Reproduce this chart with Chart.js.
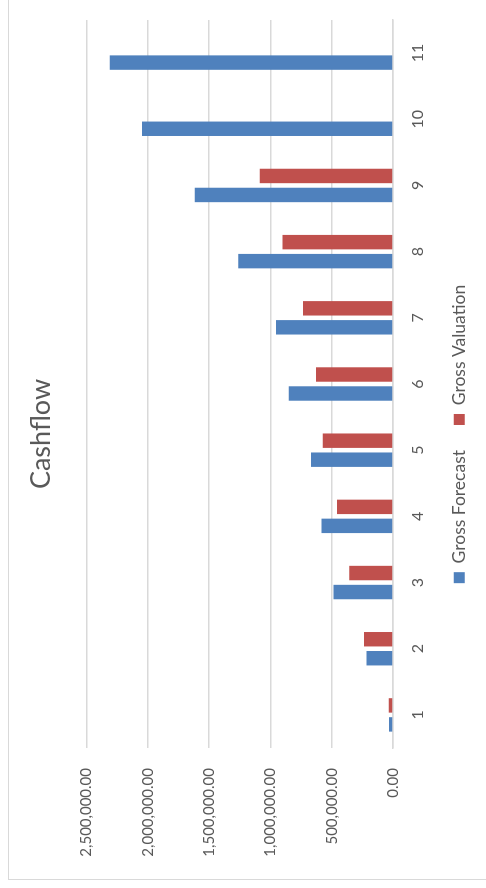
<!DOCTYPE html>
<html>
<head>
<meta charset="utf-8">
<script src="https://cdn.jsdelivr.net/npm/chart.js@4/dist/chart.umd.min.js"></script>
<style>
  html, body { margin: 0; padding: 0; background: #ffffff; }
  body { width: 486px; height: 888px; overflow: hidden; position: relative; }
  #rot { position: absolute; left: 0; top: 0; width: 900px; height: 486px;
         transform-origin: 0 0; transform: translate(0px, 888px) rotate(-90deg); }
  #frame { position: absolute; left: 8px; top: 8px; width: 900px; height: 500px;
           border: 1px solid #d9d9d9; box-sizing: border-box; }
  #c { position: absolute; left: 0; top: 0; }
</style>
</head>
<body>
<div id="rot">
  <div id="frame"></div>
  <canvas id="c" width="900" height="486"></canvas>
</div>
<script>
const chartTitle = 'Cashflow';
const categories = ['1', '2', '3', '4', '5', '6', '7', '8', '9', '10', '11'];
const seriesNames = ['Gross Forecast', 'Gross Valuation'];
const grossForecast = [33000, 217000, 486000, 584000, 669000, 851000, 954000, 1261000, 1616000, 2046000, 2309000];
const grossValuation = [35000, 237000, 356000, 457000, 573000, 628000, 734000, 900000, 1087000, null, null];
const valueMin = 0;
const valueMax = 2500000;
const valueStep = 500000;

function fmt(v) {
  const n = Math.round(v * 100) / 100;
  const parts = n.toFixed(2).split('.');
  parts[0] = parts[0].replace(/\B(?=(\d{3})+(?!\d))/g, ',');
  return parts.join('.');
}

const FONT = "Lato, 'Open Sans', sans-serif";
const TXT = '#595959';
const GRID = '#d9d9d9';

new Chart(document.getElementById('c'), {
  type: 'bar',
  data: {
    labels: categories,
    datasets: [
      { label: seriesNames[0], data: grossForecast, backgroundColor: '#4f81bd', borderWidth: 0 },
      { label: seriesNames[1], data: grossValuation, backgroundColor: '#c0504d', borderWidth: 0 }
    ]
  },
  options: {
    responsive: false,
    animation: false,
    devicePixelRatio: 1,
    categoryPercentage: 0.574,
    barPercentage: 0.76,
    layout: { padding: { left: 8, top: 8, right: 0, bottom: 8 } },
    plugins: {
      title: {
        display: true, text: chartTitle, color: TXT,
        font: { family: FONT, size: 27, weight: 'normal' },
        padding: { top: 17, bottom: 29 }
      },
      legend: {
        display: true, position: 'bottom',
        labels: { color: TXT, font: { family: FONT, size: 17.5 }, boxWidth: 11, boxHeight: 11, padding: 25 }
      },
      tooltip: { enabled: false }
    },
    scales: {
      x: {
        grid: { display: false, drawTicks: false },
        border: { display: true, color: GRID, width: 1.5 },
        ticks: { color: TXT, font: { family: FONT, size: 16 }, padding: 15 },
        afterFit: s => { s.height = 32.5; }
      },
      y: {
        min: valueMin, max: valueMax,
        grid: { color: GRID, lineWidth: 1.5, drawTicks: false },
        border: { display: false },
        ticks: { stepSize: valueStep, color: TXT, font: { family: FONT, size: 15 }, padding: 20,
                 callback: v => fmt(v) },
        afterFit: s => { s.width = 132; }
      },
      y2: {
        position: 'right',
        grid: { display: false, drawTicks: false },
        border: { display: false },
        ticks: { display: false },
        afterFit: s => { s.width = 32; }
      }
    }
  }
});
</script>
</body>
</html>
